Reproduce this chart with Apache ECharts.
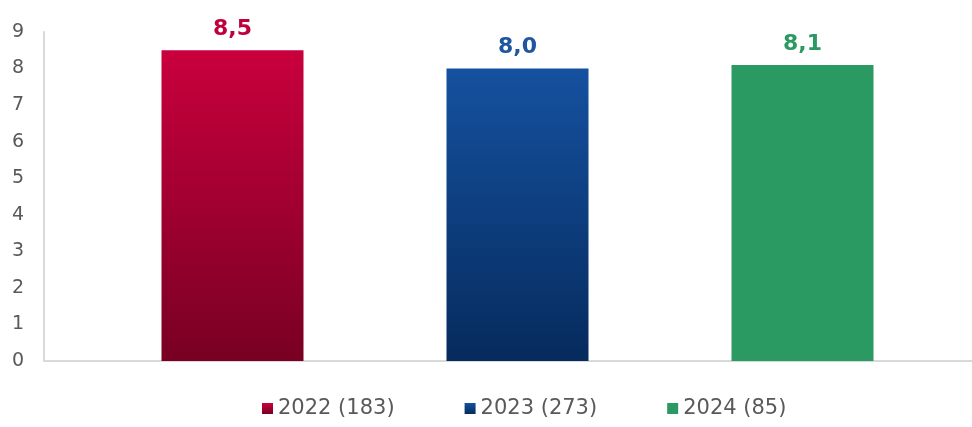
<!DOCTYPE html>
<html>
<head>
<meta charset="utf-8">
<script src="https://cdn.jsdelivr.net/npm/echarts@6/dist/echarts.min.js"></script>
<style>
html,body{margin:0;padding:0;background:#fff;}
#chart{width:972px;height:427px;}
</style>
</head>
<body>
<div id="chart"></div>
<script>
var categories = ['2022', '2023', '2024'];
var seriesNames = ['2022 (183)', '2023 (273)', '2024 (85)'];
var seriesValues = [8.5, 8.0, 8.1];
var yTicks = [0, 9, 1]; // min, max, interval

var topColors = ['#C9003D', '#15519F', '#2A9A62'];
var bottomColors = ['#780022', '#062B5D', '#2A9A62'];
var labelColors = ['#C0003C', '#1E56A0', '#2A9A62'];

var chart = echarts.init(document.getElementById('chart'));
var series = seriesNames.map(function (name, i) {
  var d = categories.map(function (c, j) { return j === i ? seriesValues[i] : '-'; });
  return {
    name: name,
    type: 'bar',
    xAxisIndex: 1,
    yAxisIndex: 1,
    data: d,
    barWidth: 142,
    barGap: '-100%',
    itemStyle: {
      color: new echarts.graphic.LinearGradient(0, 0, 0, 1, [
        { offset: 0, color: topColors[i] },
        { offset: 1, color: bottomColors[i] }
      ])
    },
    label: {
      show: true,
      position: 'top',
      distance: 10,
      color: labelColors[i],
      fontFamily: 'DejaVu Sans',
      fontWeight: 'bold',
      fontSize: 22,
      formatter: function (p) { return p.value.toFixed(1).replace('.', ','); }
    }
  };
});

chart.setOption({
  animation: false,
  backgroundColor: '#ffffff',
  grid: [
    { left: 44, right: 0, top: 32, bottom: 66, containLabel: false },
    { left: 90, right: 27, top: 32, bottom: 66, containLabel: false }
  ],
  legend: {
    bottom: 3,
    left: 257,
    itemWidth: 11,
    itemHeight: 11,
    itemGap: 70,
    icon: 'rect',
    textStyle: { color: '#595959', fontSize: 21, fontFamily: 'DejaVu Sans' },
    data: seriesNames.map(function (n, i) {
      return { name: n, itemStyle: { color: new echarts.graphic.LinearGradient(0, 0, 0, 1, [
        { offset: 0, color: topColors[i] }, { offset: 1, color: bottomColors[i] }]) } };
    })
  },
  xAxis: [
    {
      gridIndex: 0,
      type: 'category',
      data: [''],
      axisLine: { show: true, lineStyle: { color: '#D9D9D9', width: 2 } },
      axisTick: { show: false },
      axisLabel: { show: false }
    },
    {
      gridIndex: 1,
      type: 'category',
      data: categories,
      show: false
    }
  ],
  yAxis: [
    {
      gridIndex: 0,
      type: 'value',
      min: yTicks[0],
      max: yTicks[1],
      interval: yTicks[2],
      axisLine: { show: true, lineStyle: { color: '#D9D9D9', width: 2 } },
      axisTick: { show: false },
      splitLine: { show: false },
      axisLabel: { color: '#595959', fontSize: 19, fontFamily: 'DejaVu Sans', margin: 20 }
    },
    {
      gridIndex: 1,
      type: 'value',
      min: yTicks[0],
      max: yTicks[1],
      interval: yTicks[2],
      show: false
    }
  ],
  series: series
});
</script>
</body>
</html>
